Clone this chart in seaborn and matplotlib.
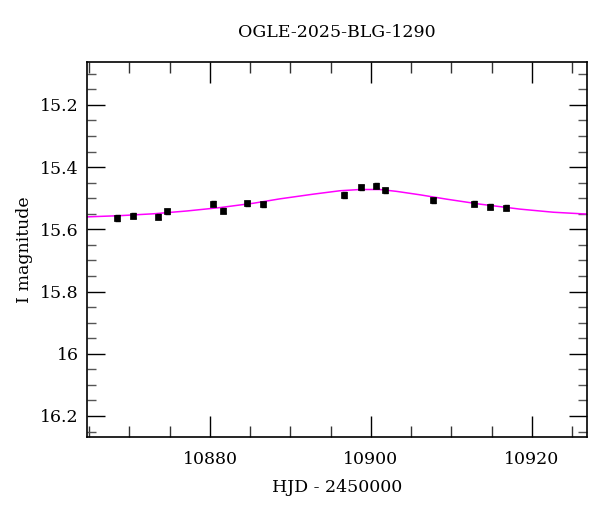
import matplotlib
matplotlib.use("Agg")
import matplotlib.pyplot as plt
import seaborn as sns
import pandas as pd
from matplotlib.ticker import MultipleLocator

# Observed data (HJD-2450000, I mag, error)
hjd = [10868.5, 10870.4, 10873.5, 10874.65, 10880.4, 10881.6, 10884.6, 10886.6,
       10896.6, 10898.8, 10900.6, 10901.8, 10907.7, 10912.8, 10914.8, 10916.8]
mag = [15.563, 15.556, 15.560, 15.542, 15.518, 15.541, 15.516, 15.519,
       15.489, 15.465, 15.460, 15.475, 15.506, 15.517, 15.527, 15.530]
err = [0.009, 0.008, 0.008, 0.008, 0.008, 0.008, 0.008, 0.008,
       0.009, 0.007, 0.008, 0.007, 0.008, 0.007, 0.008, 0.008]

# Model curve
model_t = [10864.72, 10868.86, 10873.01, 10877.14, 10881.28, 10885.43, 10888.70,
           10892.83, 10896.15, 10898.63, 10901.12, 10903.19, 10906.09, 10909.40,
           10913.54, 10918.51, 10922.65, 10926.83]
model_m = [15.560, 15.556, 15.550, 15.541, 15.530, 15.516, 15.502,
           15.487, 15.476, 15.472, 15.472, 15.478, 15.489, 15.503,
           15.519, 15.535, 15.545, 15.551]

sns.set_theme(style="ticks")
plt.rcParams['font.family'] = ['DejaVu Serif']
plt.rcParams['text.color'] = 'black'
plt.rcParams['axes.labelcolor'] = 'black'
plt.rcParams['xtick.color'] = 'black'
plt.rcParams['ytick.color'] = 'black'

fig = plt.figure(figsize=(6.0, 5.12), dpi=100)
ax = fig.add_axes([0.145, 0.1465, 0.833, 0.7325])

dfm = pd.DataFrame({"t": model_t, "m": model_m})
sns.lineplot(data=dfm, x="t", y="m", ax=ax, color="#ff00ff", linewidth=1.1)

ax.errorbar(hjd, mag, yerr=err, fmt='none', ecolor='black', elinewidth=1.0, capsize=1.8,
            capthick=1.0, zorder=4)
dfd = pd.DataFrame({"t": hjd, "m": mag})
sns.scatterplot(data=dfd, x="t", y="m", ax=ax, marker='s', s=15, color='black',
                edgecolor='black', linewidth=0.5, zorder=5)

ax.set_xlim(10864.72, 10926.83)
ax.set_ylim(16.2675, 15.062)

ax.xaxis.set_major_locator(MultipleLocator(20))
ax.xaxis.set_minor_locator(MultipleLocator(5))
ax.yaxis.set_minor_locator(MultipleLocator(0.05))
ax.set_yticks([15.2, 15.4, 15.6, 15.8, 16.0, 16.2])
ax.set_yticklabels(["15.2", "15.4", "15.6", "15.8", "16", "16.2"])

ax.tick_params(axis='x', which='major', direction='in', length=15, width=1.0,
               top=True, bottom=True, labelsize=12.5, pad=10, colors='black')
ax.tick_params(axis='x', which='minor', direction='in', length=8, width=1.0,
               top=True, bottom=True, color='#333333')
ax.tick_params(axis='y', which='major', direction='in', length=13, width=1.0,
               left=True, right=True, labelsize=12.5, pad=6, colors='black')
ax.tick_params(axis='y', which='minor', direction='in', length=6.5, width=1.0,
               left=True, right=True, color='#555555')

for s in ax.spines.values():
    s.set_linewidth(1.2)
    s.set_color('black')

ax.set_xlabel("HJD - 2450000", fontsize=12.5, labelpad=8, color='black')
ax.set_ylabel("I magnitude", fontsize=12.5, labelpad=5, color='black')
ax.set_title("OGLE-2025-BLG-1290", fontsize=12.5, pad=18, color='black')

fig.savefig("out.png", dpi=100)
